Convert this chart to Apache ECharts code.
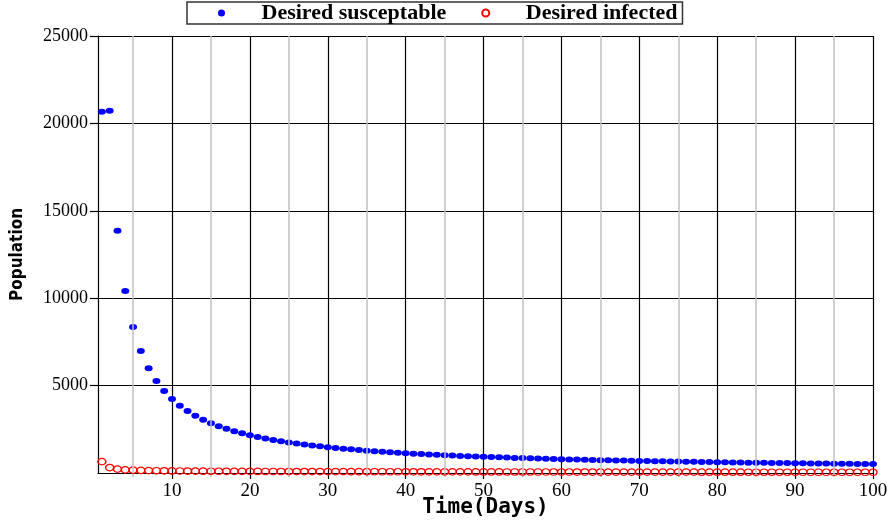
<!DOCTYPE html>
<html>
<head>
<meta charset="utf-8">
<script src="https://cdn.jsdelivr.net/npm/echarts@6/dist/echarts.min.js"></script>
<style>
html,body{margin:0;padding:0;background:#fff;}
#chart{width:891px;height:521px;}
</style>
</head>
<body>
<div id="chart"></div>
<script>
const days = [1,2,3,4,5,6,7,8,9,10,11,12,13,14,15,16,17,18,19,20,21,22,23,24,25,26,27,28,29,30,31,32,33,34,35,36,37,38,39,40,41,42,43,44,45,46,47,48,49,50,51,52,53,54,55,56,57,58,59,60,61,62,63,64,65,66,67,68,69,70,71,72,73,74,75,76,77,78,79,80,81,82,83,84,85,86,87,88,89,90,91,92,93,94,95,96,97,98,99,100];

const susceptible = [20663,20720,13857,10418,8354,6979,5996,5259,4686,4228,
3853,3540,3275,3049,2852,2680,2528,2394,2273,2164,
2066,1977,1895,1820,1752,1688,1629,1575,1524,1477,
1432,1391,1352,1315,1280,1247,1216,1187,1159,1133,
1108,1084,1061,1039,1018,998,979,961,943,926,
910,895,880,865,851,838,825,812,800,789,
778,767,756,746,736,726,717,708,699,691,
682,674,666,659,651,644,637,630,623,617,
610,604,598,592,587,581,575,570,565,560,
554,550,545,540,535,531,526,522,518,514];

const infected = [650,310,220,180,160,148,138,130,124,118,
114,110,107,104,101,99,97,95,93,91,
89,88,86,85,84,83,82,81,80,79,
78,77,76,75,74,73,72,71,70,69,
68,67,66,66,65,64,63,63,62,61,
61,60,59,59,58,58,57,56,56,55,
55,54,54,53,53,52,52,51,51,50,
50,50,49,49,48,48,48,47,47,47,
46,46,46,45,45,45,44,44,44,44,
43,43,43,42,42,42,42,41,41,41];

const seriesNames = ['Desired susceptable', 'Desired infected'];
const xMajorTicks = [10,20,30,40,50,60,70,80,90,100];
const xMinorTicks = [5,15,25,35,45,55,65,75,85,95];
const yTicks = [0,5000,10000,15000,20000,25000];

const chart = echarts.init(document.getElementById('chart'), null, {renderer: 'canvas'});

const serif = 'Liberation Serif, Times New Roman, serif';

const option = {
  animation: false,
  backgroundColor: '#ffffff',
  grid: {left: 98, right: 18, top: 36, bottom: 48, containLabel: false, outerBoundsMode: 'none'},
  legend: {
    left: 187, top: 2,
    orient: 'horizontal',
    itemWidth: 70, itemHeight: 7, itemGap: 35,
    padding: [0, 5, 0, 31],
    borderColor: '#333', borderWidth: 1.5,
    backgroundColor: '#fff',
    textStyle: {fontFamily: serif, fontWeight: 'bold', fontSize: 22, color: '#000', lineHeight: 19},
    data: [
      {name: seriesNames[0], icon: 'circle'},
      {name: seriesNames[1], icon: 'circle'}
    ]
  },
  xAxis: [{
    type: 'value', min: 0.5, max: 100, splitNumber: 10,
    name: 'Time(Days)', nameLocation: 'middle', nameGap: 24, nameMoveOverlap: false,
    nameTextStyle: {fontFamily: 'DejaVu Sans Mono', fontWeight: 'bold', fontSize: 21, color: '#000'},
    axisLine: {show: true, lineStyle: {color: '#000', width: 1.2}},
    axisTick: {show: true, inside: false, length: 6, customValues: xMajorTicks, lineStyle: {color: '#000', width: 1.2}},
    axisLabel: {show: true, customValues: xMajorTicks, margin: 9, fontFamily: serif, fontSize: 19, color: '#000'},
    splitLine: {show: true, lineStyle: {color: '#000', width: 1.2}}
  }, {
    type: 'value', min: 0.5, max: 100, gridIndex: 0, position: 'bottom',
    axisLine: {show: false},
    axisTick: {show: true, inside: false, length: 4, customValues: xMinorTicks, lineStyle: {color: '#bbb', width: 1.5}},
    axisLabel: {show: false},
    splitLine: {show: false}
  }],
  yAxis: {
    type: 'value', min: yTicks[0], max: yTicks[yTicks.length - 1], interval: 5000,
    name: 'Population', nameLocation: 'middle', nameGap: 72, nameRotate: 90, nameMoveOverlap: false,
    nameTextStyle: {fontFamily: 'DejaVu Sans Condensed, DejaVu Sans', fontWeight: 'bold', fontSize: 17, color: '#000'},
    axisLine: {show: true, lineStyle: {color: '#000', width: 1.2}},
    axisTick: {show: true, inside: false, length: 8, lineStyle: {color: '#000', width: 1.2}},
    axisLabel: {show: true, showMinLabel: false, margin: 10, fontFamily: serif, fontSize: 18, color: '#000',
      formatter: v => String(v)},
    splitLine: {show: true, lineStyle: {color: '#000', width: 1.2}}
  },
  series: [
    {
      name: 'minor-grid', type: 'line', data: [], z: 1, silent: true,
      xAxisIndex: 0, yAxisIndex: 0,
      markLine: {
        silent: true, symbol: 'none', animation: false,
        label: {show: false},
        lineStyle: {color: '#c0c0c0', width: 1.5, type: 'solid'},
        data: xMinorTicks.map(v => ({xAxis: v}))
      }
    },
    {
      name: seriesNames[0], type: 'scatter', z: 3,
      symbol: 'circle', symbolSize: [8, 6],
      itemStyle: {color: '#0000ff', opacity: 1},
      data: days.map((d, i) => [d, susceptible[i]])
    },
    {
      name: seriesNames[1], type: 'scatter', z: 3,
      symbol: 'circle', symbolSize: [8, 6.5],
      itemStyle: {color: 'rgba(255,255,255,0)', borderColor: '#ff0000', borderWidth: 1.3, opacity: 1},
      data: days.map((d, i) => [d, infected[i]])
    }
  ]
};
chart.setOption(option);
</script>
</body>
</html>
